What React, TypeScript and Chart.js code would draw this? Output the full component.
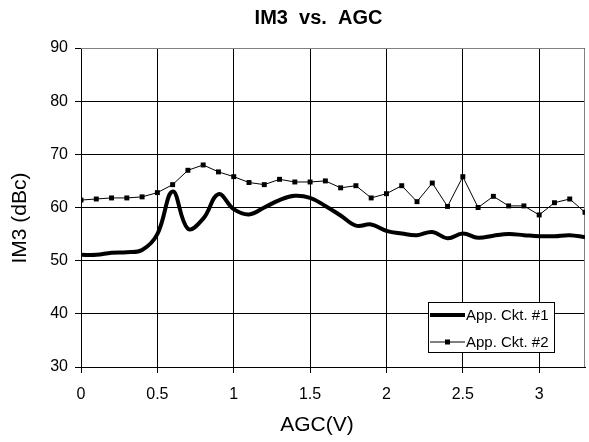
import React, { useEffect, useRef } from 'react';
import { Chart, registerables } from 'chart.js';

Chart.register(...registerables);

const chartTitle = 'IM3  vs.  AGC';
const xTitle = 'AGC(V)';
const yTitle = 'IM3 (dBc)';
const seriesLabels = ['App. Ckt. #1', 'App. Ckt. #2'];

const agc = [0, 0.1, 0.2, 0.3, 0.4, 0.5, 0.6, 0.7, 0.8, 0.9, 1.0, 1.1, 1.2, 1.3, 1.4, 1.5, 1.6, 1.7, 1.8, 1.9, 2.0, 2.1, 2.2, 2.3, 2.4, 2.5, 2.6, 2.7, 2.8, 2.9, 3.0, 3.1, 3.2, 3.3];
const ckt1 = [51.1, 51.1, 51.5, 51.6, 52.0, 55.0, 63.0, 56.0, 57.9, 62.5, 59.7, 58.7, 60.0, 61.4, 62.2, 61.8, 60.3, 58.5, 56.6, 56.8, 55.6, 55.1, 54.8, 55.4, 54.2, 55.1, 54.3, 54.7, 55.0, 54.8, 54.6, 54.6, 54.8, 54.4];
const ckt2 = [61.4, 61.6, 61.8, 61.8, 62.0, 62.8, 64.3, 67.0, 68.0, 66.7, 65.8, 64.7, 64.3, 65.3, 64.8, 64.8, 65.0, 63.7, 64.1, 61.8, 62.6, 64.1, 61.1, 64.6, 60.2, 65.8, 60.0, 62.1, 60.3, 60.3, 58.6, 60.9, 61.6, 59.1];

const xMin = 0;
const xMax = 3.3;
const xStep = 0.5;
const yMin = 30;
const yMax = 90;
const yStep = 10;

const FONT = "'Liberation Sans', Arial, Helvetica, sans-serif";

const framePlugin = {
  id: 'frame',
  beforeDatasetsDraw(chart: any) {
    const { ctx, chartArea } = chart;
    ctx.save();
    ctx.strokeStyle = '#808080';
    ctx.lineWidth = 1;
    ctx.beginPath();
    ctx.moveTo(chartArea.left, Math.round(chartArea.top) + 0.5);
    ctx.lineTo(chartArea.right - 0.5, Math.round(chartArea.top) + 0.5);
    ctx.lineTo(chartArea.right - 0.5, chartArea.bottom);
    ctx.stroke();
    ctx.restore();
  },
};

const titlesPlugin = {
  id: 'titles',
  afterDraw(chart: any) {
    const { ctx } = chart;
    ctx.save();
    ctx.fillStyle = '#000';
    ctx.textAlign = 'center';
    ctx.textBaseline = 'alphabetic';
    ctx.font = `bold 20px ${FONT}`;
    ctx.fillText(chartTitle, 318.5, 23.5);
    ctx.font = `21px ${FONT}`;
    ctx.fillText(xTitle, 317, 430.5);
    ctx.translate(25.5, 218);
    ctx.rotate(-Math.PI / 2);
    ctx.fillText(yTitle, 0, 0);
    ctx.restore();
  },
};

const legendPlugin = {
  id: 'boxLegend',
  afterDatasetsDraw(chart: any) {
    const { ctx, chartArea } = chart;
    const w = 127;
    const h = 51;
    const right = Math.round(chartArea.right - 30);
    const bottom = Math.round(chartArea.bottom - 14);
    const left = right - w;
    const top = bottom - h;
    ctx.save();
    ctx.fillStyle = '#fff';
    ctx.fillRect(left, top, w, h);
    ctx.strokeStyle = '#000';
    ctx.lineWidth = 1;
    ctx.strokeRect(left + 0.5, top + 0.5, w - 1, h - 1);
    ctx.font = `15px ${FONT}`;
    ctx.textBaseline = 'middle';
    ctx.textAlign = 'left';
    chart.data.datasets.forEach((ds: any, i: number) => {
      const y = top + 13 + i * 27;
      const x0 = left + 2;
      const x1 = left + 37;
      ctx.strokeStyle = '#000';
      ctx.lineWidth = ds.borderWidth;
      ctx.beginPath();
      ctx.moveTo(x0, y);
      ctx.lineTo(x1, y);
      ctx.stroke();
      if (ds.pointRadius > 0) {
        ctx.fillStyle = '#000';
        ctx.fillRect((x0 + x1) / 2 - 2.5, y - 2.5, 5, 5);
      }
      ctx.fillStyle = '#000';
      ctx.fillText(ds.label, x1 + 1, y + 1);
    });
    ctx.restore();
  },
};

export default function App() {
  const ref = useRef<HTMLCanvasElement | null>(null);

  useEffect(() => {
    if (!ref.current) return;
    const chart = new Chart(ref.current, {
      type: 'scatter',
      data: {
        datasets: [
          {
            label: seriesLabels[0],
            data: agc.map((x, i) => ({ x, y: ckt1[i] })),
            showLine: true,
            borderColor: '#000',
            backgroundColor: '#000',
            borderWidth: 4,
            pointRadius: 0,
            pointHoverRadius: 0,
            tension: 0.4,
          },
          {
            label: seriesLabels[1],
            data: agc.map((x, i) => ({ x, y: ckt2[i] })),
            showLine: true,
            borderColor: '#000',
            backgroundColor: '#000',
            borderWidth: 1,
            pointRadius: 3.5,
            pointStyle: 'rect',
            pointBorderWidth: 0,
            pointBackgroundColor: '#000',
            tension: 0,
          },
        ],
      },
      options: {
        responsive: false,
        animation: false,
        events: [],
        layout: { padding: { left: 0, right: 1, top: 48, bottom: 0 } },
        plugins: {
          legend: { display: false },
          tooltip: { enabled: false },
          title: { display: false },
        },
        scales: {
          x: {
            type: 'linear',
            min: xMin,
            max: xMax,
            afterBuildTicks: (scale: any) => {
              scale.ticks = scale.ticks.filter((t: any) => Math.abs(t.value / xStep - Math.round(t.value / xStep)) < 1e-6);
            },
            afterFit: (scale: any) => {
              scale.height = 75;
            },
            ticks: {
              stepSize: xStep,
              color: '#000',
              padding: 12,
              maxRotation: 0,
              autoSkip: false,
              font: { family: FONT, size: 16 },
              callback: (v: any) => String(Number(Number(v).toFixed(2))),
            },
            grid: { color: '#000', lineWidth: 1, tickLength: 6, drawTicks: true },
            border: { display: true, color: '#000', width: 1 },
          },
          y: {
            type: 'linear',
            min: yMin,
            max: yMax,
            afterFit: (scale: any) => {
              scale.width = 81;
            },
            ticks: {
              stepSize: yStep,
              color: '#000',
              padding: 7,
              font: { family: FONT, size: 16 },
            },
            grid: { color: '#000', lineWidth: 1, tickLength: 6, drawTicks: true },
            border: { display: true, color: '#000', width: 1 },
          },
        },
      },
      plugins: [framePlugin, legendPlugin, titlesPlugin],
    } as any);
    return () => chart.destroy();
  }, []);

  return (
    <div style={{ position: 'fixed', left: 0, top: 0, width: 589, height: 442, background: '#fff' }}>
      <canvas ref={ref} width={589} height={442} style={{ display: 'block' }} />
    </div>
  );
}
